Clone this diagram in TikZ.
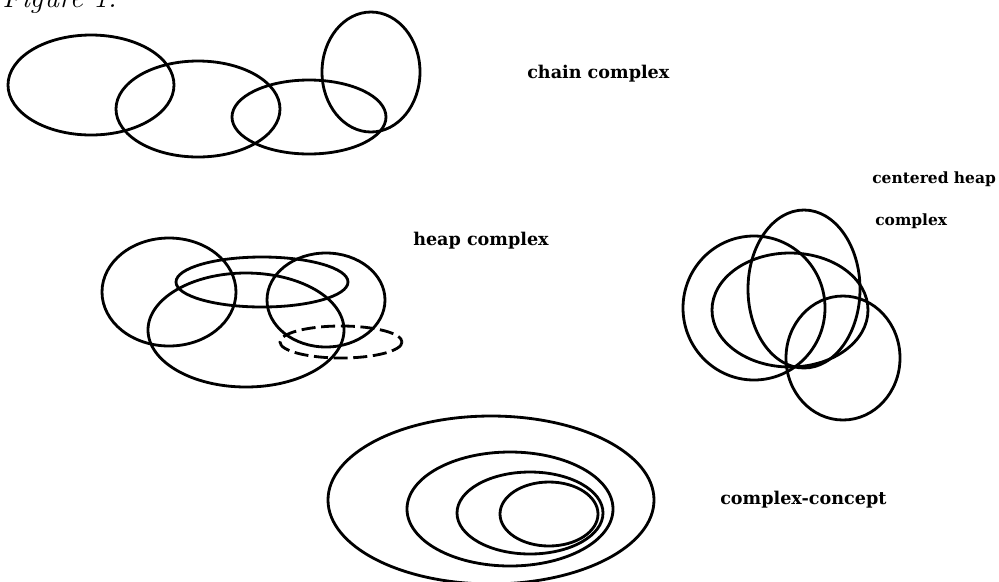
\documentclass[tikz,border=0pt]{standalone}
\usepackage{fontspec}
\newfontfamily\labelfont{DejaVu Serif}
\usetikzlibrary{positioning}
\tikzset{
  blob/.style={draw=black,line width=2pt},
  dashblob/.style={blob,dash pattern=on 10pt off 4pt},
  caption/.style={font=\labelfont\bfseries\fontsize{12.5}{15}\selectfont,inner sep=0pt,anchor=base west},
  smallcaption/.style={caption,font=\labelfont\bfseries\fontsize{11}{13}\selectfont},
  figcaption/.style={font=\itshape\fontsize{21}{24}\selectfont,inner sep=0pt,anchor=base west}
}
\begin{document}
\begin{tikzpicture}[x=0.025cm,y=-0.025cm]
\useasboundingbox (0,0) rectangle (999,581);
\node[figcaption] (figlabel) at (2,7) {Figure 1:};
% chain complex
\foreach \cx/\cy/\rx/\ry in {91/85/83/50,198/109/82/48,309/117/77/37,371/72/49/60}{
  \draw[blob] (\cx,\cy) ellipse [x radius=\rx, y radius=\ry];
}
\node[caption] (chainlabel) at (527,78) {chain complex};
% heap complex
\foreach \cx/\cy/\rx/\ry in {169/292/67/54,246/330/98/57,262/282/86/25,326/300/59/47}{
  \draw[blob] (\cx,\cy) ellipse [x radius=\rx, y radius=\ry];
}
\draw[dashblob] (341,342) ellipse [x radius=61, y radius=16];
\node[caption] (heaplabel) at (413,245) {heap complex};
% centered heap complex
\foreach \cx/\cy/\rx/\ry in {754/308/71/72,804/289/56/79,790/310/78/57,843/358/57/62}{
  \draw[blob] (\cx,\cy) ellipse [x radius=\rx, y radius=\ry];
}
\node[smallcaption] (centlabel) at (872,183) {centered heap};
\node[smallcaption] (centlabelb) at (875,225) {complex};
% complex-concept
\foreach \cx/\cy/\rx/\ry in {491/500/163/84,510/509/103/57,530/513/73/41,549/514/49/32}{
  \draw[blob] (\cx,\cy) ellipse [x radius=\rx, y radius=\ry];
}
\node[caption] (conceptlabel) at (720,504) {complex-concept};
\end{tikzpicture}
\end{document}
